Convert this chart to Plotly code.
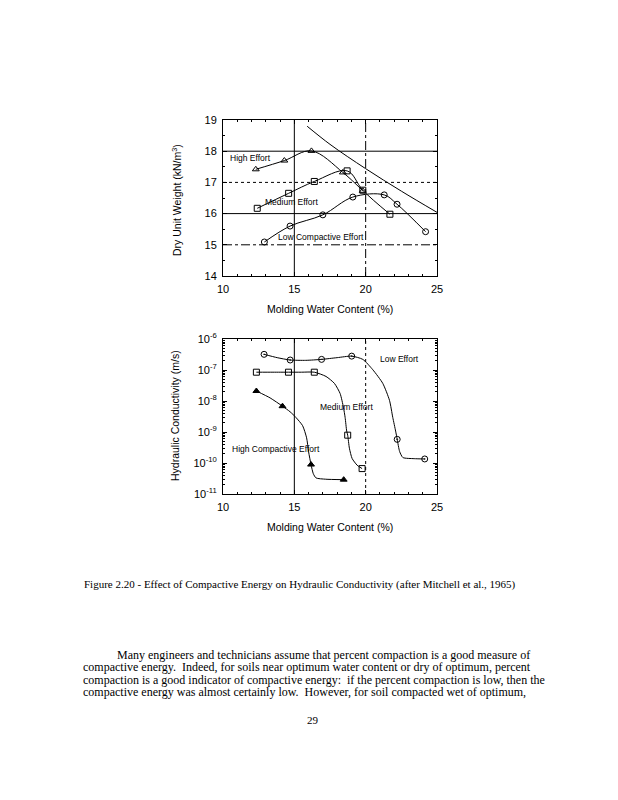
import math
import plotly.graph_objects as go

# ---------------- data: top panel (dry unit weight, kN/m3) ----------------
high_w = [12.3, 14.3, 16.2, 18.4, 19.8]
high_gd = [17.42, 17.70, 18.01, 17.32, 16.73]
med_w = [12.4, 14.6, 16.4, 18.7, 19.8, 21.7]
med_gd = [16.17, 16.65, 17.03, 17.37, 16.75, 15.98]
low_w = [12.9, 14.7, 17.0, 19.1, 21.3, 22.2, 24.2]
low_gd = [15.09, 15.60, 15.96, 16.53, 16.60, 16.30, 15.42]
zav_w = [15.9, 17.5, 20.0, 22.5, 25.0]
zav_gd = [18.80, 18.22, 17.44, 16.72, 16.04]

# ---------------- data: bottom panel (hydraulic conductivity, m/s) ----------------
k_high_w = [12.34, 14.17, 16.17, 18.46]
k_high = [2.1e-8, 6.8e-9, 8.9e-11, 2.9e-11]
k_med_w = [12.34, 14.59, 16.40, 18.74, 19.75]
k_med = [8.5e-8, 8.5e-8, 8.5e-8, 7.9e-10, 6.6e-11]
k_low_w = [12.88, 14.71, 16.91, 19.02, 22.21, 24.14]
k_low = [3.2e-7, 2.1e-7, 2.2e-7, 2.8e-7, 5.8e-10, 1.35e-10]

# hand-drawn fitted curves
c_high_w = [12.34, 13.3, 14.17, 14.7, 15.11, 15.58, 15.86, 16.00, 16.17, 16.33, 16.52, 17.2, 18.46]
c_high = [2.1e-8, 1.26e-8, 6.8e-9, 4.5e-9, 2.95e-9, 1.6e-9, 6.5e-10, 2.3e-10, 8.9e-11, 4.5e-11, 3.3e-11, 3.0e-11, 2.9e-11]
c_med_w = [12.34, 13.5, 14.59, 15.5, 16.40, 17.22, 17.81, 18.21, 18.44, 18.56, 18.67, 18.74, 18.86, 19.05, 19.40, 19.75]
c_med = [8.5e-8, 8.5e-8, 8.5e-8, 8.5e-8, 8.5e-8, 6.2e-8, 3.7e-8, 1.74e-8, 6.3e-9, 2.95e-9, 1.07e-9, 7.9e-10, 3.0e-10, 1.4e-10, 8.5e-11, 6.6e-11]
c_low_w = [12.88, 13.8, 14.71, 15.8, 16.91, 18.0, 19.02, 19.80, 20.50, 21.20, 21.67, 21.90, 22.10, 22.21, 22.38, 22.61, 23.4, 24.14]
c_low = [3.2e-7, 2.5e-7, 2.1e-7, 2.05e-7, 2.2e-7, 2.5e-7, 2.8e-7, 2.2e-7, 1.02e-7, 3.7e-8, 1.05e-8, 2.95e-9, 1.07e-9, 5.8e-10, 2.35e-10, 1.5e-10, 1.38e-10, 1.35e-10]

# tick labels
x_ticks = [10, 15, 20, 25]
gd_ticks = [14, 15, 16, 17, 18, 19]
k_ticks = [1e-11, 1e-10, 1e-9, 1e-8, 1e-7, 1e-6]
k_ticktext = ["10<sup>-11</sup>", "10<sup>-10</sup>", "10<sup>-9</sup>", "10<sup>-8</sup>",
              "10<sup>-7</sup>", "10<sup>-6</sup>"]

# grid lines (value, dash)
top_hgrid = [(15, "dashdot"), (16, "solid"), (17, "dot"), (18, "solid")]
top_vgrid = [(15, "solid"), (20, "dashdot")]
bot_hgrid = [(1e-7, "solid"), (1e-8, "solid"), (1e-9, "dot"), (1e-10, "solid")]
bot_vgrid = [(15, "solid"), (20, "dot")]

W, H = 618, 800
OFF = 8  # page body margin in the browser
SANS = "Liberation Sans, Arial, sans-serif"
SERIF = "Liberation Serif, Times New Roman, serif"


def px(xp, yp):
    return (xp - OFF) / W, 1 - (yp - OFF) / H


fig = go.Figure()


def mk(symbol):
    return dict(symbol=symbol, size=6, color="black", line=dict(color="black", width=1))


# top panel
fig.add_trace(go.Scatter(x=zav_w, y=zav_gd, mode="lines", line=dict(color="black", width=1, shape="spline"),
                         xaxis="x", yaxis="y", showlegend=False))
fig.add_trace(go.Scatter(x=high_w, y=high_gd, mode="lines+markers", line=dict(color="black", width=1, shape="spline"),
                         marker=mk("triangle-up-open"), xaxis="x", yaxis="y", showlegend=False))
fig.add_trace(go.Scatter(x=med_w, y=med_gd, mode="lines+markers", line=dict(color="black", width=1, shape="spline"),
                         marker=mk("square-open"), xaxis="x", yaxis="y", showlegend=False))
fig.add_trace(go.Scatter(x=low_w, y=low_gd, mode="lines+markers", line=dict(color="black", width=1, shape="spline"),
                         marker=mk("circle-open"), xaxis="x", yaxis="y", showlegend=False))

# bottom panel curves
for cx, cy in [(c_high_w, c_high), (c_med_w, c_med), (c_low_w, c_low)]:
    fig.add_trace(go.Scatter(x=cx, y=cy, mode="lines", line=dict(color="black", width=1, shape="spline", smoothing=0.6),
                             xaxis="x2", yaxis="y2", showlegend=False))
fig.add_trace(go.Scatter(x=k_high_w, y=k_high, mode="markers", marker=mk("triangle-up"),
                         xaxis="x2", yaxis="y2", showlegend=False))
fig.add_trace(go.Scatter(x=k_med_w, y=k_med, mode="markers", marker=mk("square-open"),
                         xaxis="x2", yaxis="y2", showlegend=False))
fig.add_trace(go.Scatter(x=k_low_w, y=k_low, mode="markers", marker=mk("circle-open-dot"),
                         xaxis="x2", yaxis="y2", showlegend=False))

xdom = [(223 - OFF) / W, (437 - OFF) / W]
ax_common = dict(showline=True, linecolor="black", linewidth=1, mirror="allticks", ticks="inside",
                 ticklen=4, tickcolor="black", showgrid=False, zeroline=False,
                 tickfont=dict(family=SANS, size=11, color="black"), automargin=False)

fig.update_layout(
    width=W, height=H, margin=dict(l=0, r=0, t=0, b=0),
    paper_bgcolor="white", plot_bgcolor="white",
    xaxis=dict(domain=xdom, range=[10, 25], tickvals=x_ticks, anchor="y", ticklabelstandoff=3,
               minor=dict(dtick=1, ticks="inside", ticklen=2, tickcolor="black"), **ax_common),
    yaxis=dict(domain=[1 - (276 - OFF) / H, 1 - (120 - OFF) / H], range=[14, 19], tickvals=gd_ticks,
               anchor="x", ticklabelstandoff=3,
               minor=dict(dtick=0.5, ticks="inside", ticklen=2, tickcolor="black"), **ax_common),
    xaxis2=dict(domain=xdom, range=[10, 25], tickvals=x_ticks, anchor="y2", ticklabelstandoff=3,
                minor=dict(dtick=1, ticks="inside", ticklen=2, tickcolor="black"), **ax_common),
    yaxis2=dict(domain=[1 - (494 - OFF) / H, 1 - (339 - OFF) / H], type="log", range=[-11, -6],
                tickvals=k_ticks, ticktext=k_ticktext, anchor="x2", ticklabelstandoff=3,
                minor=dict(dtick="D1", ticks="inside", ticklen=2, tickcolor="black"), **ax_common),
)

shapes = []
for v, d in top_hgrid:
    shapes.append(dict(type="line", xref="x domain", yref="y", x0=0, x1=1, y0=v, y1=v,
                       line=dict(color="black", width=1, dash=d), layer="below"))
for v, d in top_vgrid:
    shapes.append(dict(type="line", xref="x", yref="y domain", x0=v, x1=v, y0=0, y1=1,
                       line=dict(color="black", width=1, dash=d), layer="below"))
for v, d in bot_hgrid:
    lv = math.log10(v)
    shapes.append(dict(type="line", xref="x2 domain", yref="y2", x0=0, x1=1, y0=lv, y1=lv,
                       line=dict(color="black", width=1, dash=d), layer="below"))
for v, d in bot_vgrid:
    shapes.append(dict(type="line", xref="x2", yref="y2 domain", x0=v, x1=v, y0=0, y1=1,
                       line=dict(color="black", width=1, dash=d), layer="below"))
fig.update_layout(shapes=shapes)

lab = dict(family=SANS, size=8.5, color="black")
ann = [
    dict(x=11.92, y=17.77, xref="x", yref="y", text="High Effort", showarrow=False, font=lab),
    dict(x=14.79, y=16.38, xref="x", yref="y", text="Medium Effort", showarrow=False, font=lab),
    dict(x=16.9, y=15.24, xref="x", yref="y", text="Low Compactive Effort", showarrow=False, font=lab),
    dict(x=22.38, y=-6.63, xref="x2", yref="y2", text="Low Effort", showarrow=False, font=lab),
    dict(x=18.67, y=-8.18, xref="x2", yref="y2", text="Medium Effort", showarrow=False, font=lab),
    dict(x=13.70, y=-9.55, xref="x2", yref="y2", text="High Compactive Effort", showarrow=False, font=lab),
]

tfont = dict(family=SANS, size=10.5, color="black")
for text, (xp, yp), ang in [
    ("Dry Unit Weight (kN/m<sup>3</sup>)", (176, 200), -90),
    ("Molding Water Content (%)", (330, 309), 0),
    ("Hydraulic Conductivity (m/s)", (175, 416), -90),
    ("Molding Water Content (%)", (330, 527), 0),
]:
    x, y = px(xp, yp)
    ann.append(dict(x=x, y=y, xref="paper", yref="paper", text=text, showarrow=False,
                    textangle=ang, font=tfont, xanchor="center", yanchor="middle"))

cap_x, cap_y = px(82, 584)
ann.append(dict(x=cap_x, y=cap_y, xref="paper", yref="paper", xanchor="left", yanchor="middle",
                showarrow=False, font=dict(family=SERIF, size=11, color="black"),
                text="Figure 2.20 - Effect of Compactive Energy on Hydraulic Conductivity (after Mitchell et al., 1965)"))

body = [
    (115, 655, "Many engineers and technicians assume that percent compaction is a good measure of"),
    (81, 667, "compactive energy.  Indeed, for soils near optimum water content or dry of optimum, percent"),
    (81, 680, "compaction is a good indicator of compactive energy:  if the percent compaction is low, then the"),
    (81, 692, "compactive energy was almost certainly low.  However, for soil compacted wet of optimum,"),
]
for xp, yp, t in body:
    x, y = px(xp, yp)
    ann.append(dict(x=x, y=y, xref="paper", yref="paper", xanchor="left", yanchor="middle",
                    showarrow=False, font=dict(family=SERIF, size=12, color="black"), text=t))

x, y = px(313, 720)
ann.append(dict(x=x, y=y, xref="paper", yref="paper", xanchor="center", yanchor="middle",
                showarrow=False, font=dict(family=SERIF, size=11, color="black"), text="29"))

fig.update_layout(annotations=ann)
fig.write_html("out.html")
